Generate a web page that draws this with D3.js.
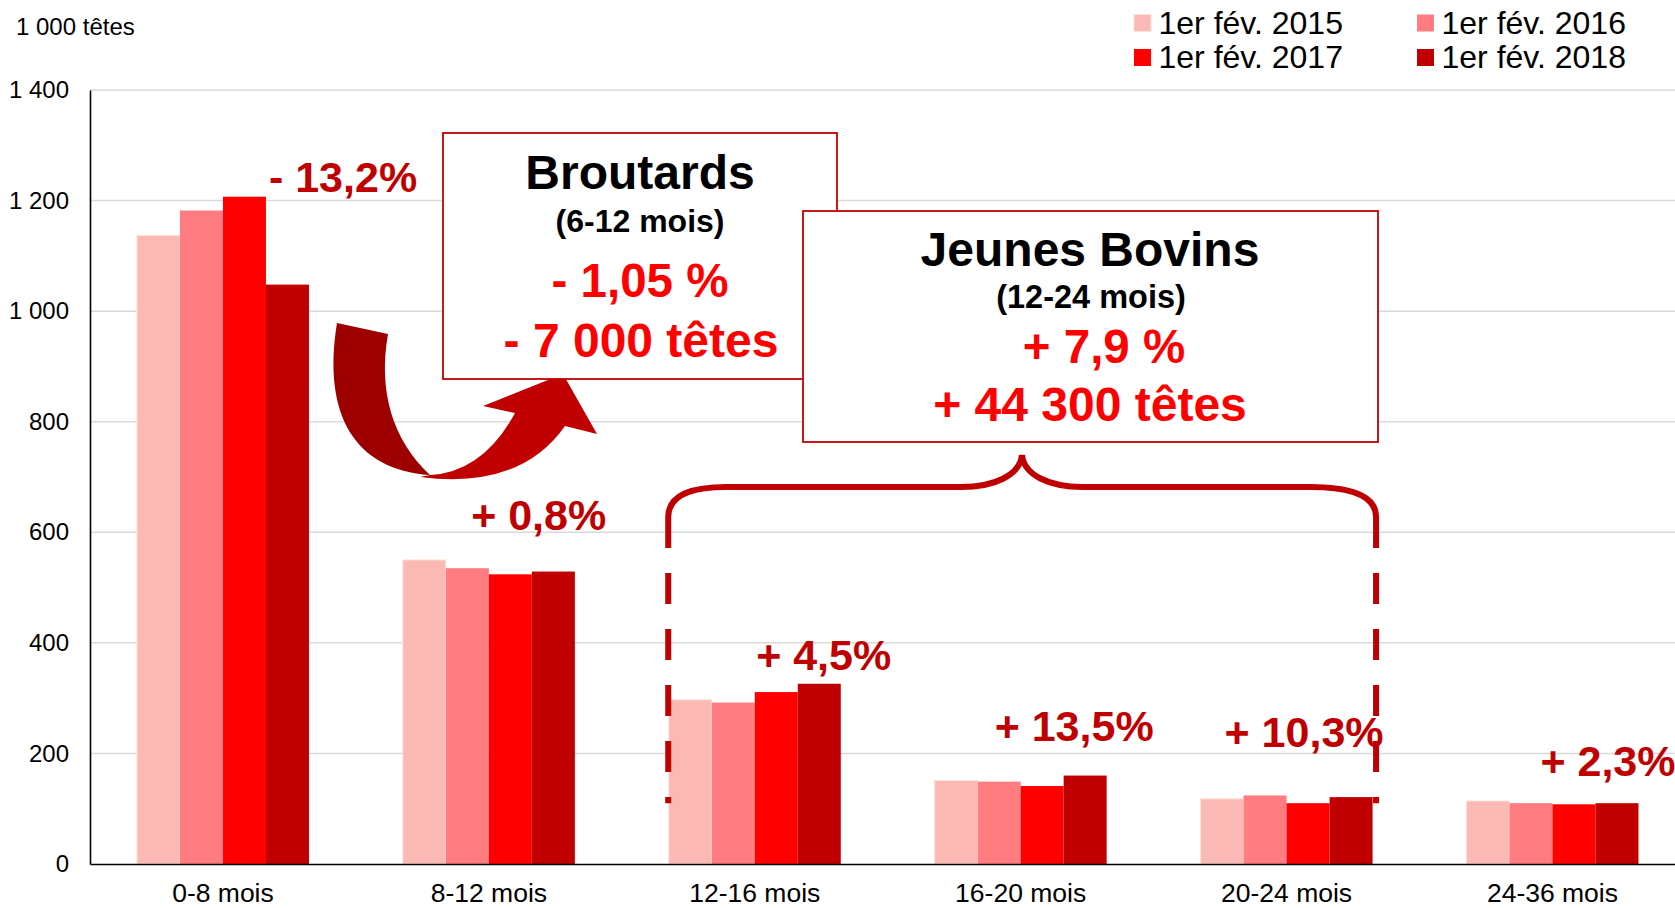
<!DOCTYPE html>
<html>
<head>
<meta charset="utf-8">
<script src="https://cdn.jsdelivr.net/npm/d3@7"></script>
<style>
  body { margin: 0; background: #fff; }
  text { font-family: "Liberation Sans", Arial, sans-serif; }
</style>
</head>
<body>
<svg id="chart" width="1675" height="908"></svg>
<script>
// data (1 000 têtes)
const categories = ["0-8 mois", "8-12 mois", "12-16 mois", "16-20 mois", "20-24 mois", "24-36 mois"];
const years = ["1er fév. 2015", "1er fév. 2016", "1er fév. 2017", "1er fév. 2018"];
const v2015 = [1137, 550, 297, 151, 118, 114];
const v2016 = [1182, 535, 292, 149, 124, 110];
const v2017 = [1207, 524, 311, 141, 110, 108];
const v2018 = [1048, 529, 326, 160, 121, 110];
const changes = ["- 13,2%", "+ 0,8%", "+ 4,5%", "+ 13,5%", "+ 10,3%", "+ 2,3%"];
const yTicks = [0, 200, 400, 600, 800, 1000, 1200, 1400];

const colors = ["#FBB9B5", "#FF7C80", "#FF0000", "#C00000"];
const series = [v2015, v2016, v2017, v2018];

const svg = d3.select("#chart"),
    width = +svg.attr("width"),
    height = +svg.attr("height");

const left = 90, step = 265.9;
const x = d3.scaleBand()
    .domain(categories)
    .range([left, left + step * categories.length])
    .paddingInner(0.353)
    .paddingOuter(0.1765);
const x1 = d3.scaleBand().domain(years).range([0, x.bandwidth()]);
const y = d3.scaleLinear().domain([0, 1400]).range([864, 90]);

const fr = d3.formatLocale({decimal: ",", thousands: " ", grouping: [3], currency: ["", ""]});

// gridlines
svg.append("g")
  .selectAll("line")
  .data(yTicks.filter(d => d > 0))
  .join("line")
    .attr("x1", left).attr("x2", width)
    .attr("y1", d => y(d)).attr("y2", d => y(d))
    .style("stroke", "#D9D9D9")
    .style("stroke-width", 1.5);

// bars
const rows = categories.map((c, i) => ({cat: c, vals: series.map((s, k) => ({year: years[k], k: k, v: s[i]}))}));
svg.append("g")
  .selectAll("g")
  .data(rows)
  .join("g")
    .attr("transform", d => `translate(${x(d.cat)},0)`)
  .selectAll("rect")
  .data(d => d.vals)
  .join("rect")
    .attr("x", d => x1(d.year))
    .attr("width", x1.bandwidth())
    .attr("y", d => y(d.v))
    .attr("height", d => y(0) - y(d.v))
    .attr("fill", d => colors[d.k])
    .style("stroke", d => d.k == 0 ? "#FCE4D6" : "none")
    .style("stroke-width", 1);

// axes
const yAxis = svg.append("g")
    .attr("transform", `translate(${left},0)`)
    .call(d3.axisLeft(y).tickValues(yTicks).tickSize(0).tickPadding(21).tickFormat(fr.format(",")));
yAxis.select(".domain").style("stroke", "#000").style("stroke-width", 1.6);
yAxis.selectAll("text").style("font-size", "24px").style("fill", "#000")
    .style("font-family", "'Liberation Sans', Arial, sans-serif");

const xAxis = svg.append("g")
    .attr("transform", `translate(0,${y(0)})`)
    .call(d3.axisBottom(x).tickSize(0).tickPadding(19));
xAxis.select(".domain").style("stroke", "#000").style("stroke-width", 1.6);
xAxis.selectAll("text").style("font-size", "26.5px").style("fill", "#000")
    .style("font-family", "'Liberation Sans', Arial, sans-serif");

// unit
svg.append("text")
    .attr("x", 16).attr("y", 35)
    .style("font-size", "24px")
    .text("1 000 têtes");

// legend
const legendPos = [[1134, 14.5], [1417, 14.5], [1134, 49], [1417, 49]];
const legend = svg.append("g")
  .selectAll("g")
  .data(years)
  .join("g")
    .attr("transform", (d, i) => `translate(${legendPos[i][0]},${legendPos[i][1]})`);
legend.append("rect")
    .attr("width", 17).attr("height", 17)
    .attr("fill", (d, i) => colors[i])
    .style("stroke", (d, i) => i == 0 ? "#FCE4D6" : "none");
legend.append("text")
    .attr("x", 24.5).attr("y", 19)
    .style("font-size", "32px")
    .text(d => d);

// curved arrow (0-8 mois -> Broutards)
svg.append("path")
    .attr("d", "M337,323 L388,334 C378,390 392,440 430,475 C355,470 322,415 337,323 Z")
    .attr("fill", "#9E0000");
svg.append("path")
    .attr("d", "M430,475 Q483,472 515,413 L483,406 L563,374 L597,434 L565,426 Q520,490 420,477 Z")
    .attr("fill", "#C00000");

// boxes
function box(bx, by, bw, bh, lines) {
  svg.append("rect")
      .attr("x", bx).attr("y", by).attr("width", bw).attr("height", bh)
      .attr("fill", "#fff")
      .style("stroke", "#C00000")
      .style("stroke-width", 1.8);
  svg.append("g").selectAll("text")
    .data(lines)
    .join("text")
      .attr("x", d => d.cx)
      .attr("y", d => d.y)
      .attr("text-anchor", "middle")
      .style("font-weight", "bold")
      .style("font-size", d => d.size + "px")
      .style("fill", d => d.color)
      .text(d => d.t);
}
box(443, 133, 394, 246, [
  {t: "Broutards", cx: 640, y: 189, size: 48, color: "#000"},
  {t: "(6-12 mois)", cx: 640, y: 232, size: 32, color: "#000"},
  {t: "- 1,05 %", cx: 640, y: 297, size: 47.5, color: "#FF0000"},
  {t: "- 7 000 têtes", cx: 641, y: 357, size: 48, color: "#FF0000"}
]);
box(803, 211, 575, 231, [
  {t: "Jeunes Bovins", cx: 1090, y: 266, size: 48, color: "#000"},
  {t: "(12-24 mois)", cx: 1091, y: 308, size: 32.5, color: "#000"},
  {t: "+ 7,9 %", cx: 1104, y: 363, size: 47.5, color: "#FF0000"},
  {t: "+ 44 300 têtes", cx: 1090, y: 421, size: 48, color: "#FF0000"}
]);

// change labels, placed by hand next to each group
const labelOffsets = [[46, -92.6], [-17.7, -41.5], [1.4, -13.8], [-26, -34.5], [-62, -50], [-12, -27]];
svg.append("g")
  .selectAll("text")
  .data(changes)
  .join("text")
    .attr("x", (d, i) => x(categories[i]) + x.bandwidth() / 2 + labelOffsets[i][0])
    .attr("y", (d, i) => y(v2018[i]) + labelOffsets[i][1])
    .style("font-size", "43px")
    .style("font-weight", "bold")
    .style("fill", "#C00000")
    .text(d => d);

// brace over 12-24 mois
const bl = x("12-16 mois") - 0.5, br = x("20-24 mois") + x.bandwidth() + 3.5;
const bTop = 487, bPeak = 455, bCorner = 517, bMid = 1022;
svg.append("path")
    .attr("d", `M${bl},${bCorner} Q${bl},${bTop} ${bl + 58},${bTop} L${bMid - 61},${bTop}
      C${bMid - 27},${bTop} ${bMid - 2},${bTop - 12} ${bMid},${bPeak}
      C${bMid + 2},${bTop - 12} ${bMid + 27},${bTop} ${bMid + 61},${bTop}
      L${br - 66},${bTop} Q${br},${bTop} ${br},${bCorner}`)
    .attr("fill", "none")
    .style("stroke", "#C00000")
    .style("stroke-width", 6);
svg.append("g")
  .selectAll("line")
  .data([bl, br])
  .join("line")
    .attr("x1", d => d).attr("x2", d => d)
    .attr("y1", bCorner).attr("y2", y(110))
    .style("stroke", "#C00000")
    .style("stroke-width", 6)
    .style("stroke-dasharray", "31,25");
</script>
</body>
</html>
